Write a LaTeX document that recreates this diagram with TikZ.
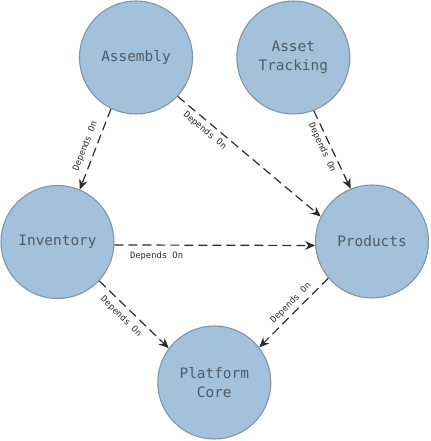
\documentclass[tikz,border=0pt]{standalone}
\usepackage{fontspec}
\setmonofont{DejaVu Sans Mono}
\usetikzlibrary{arrows.meta}
\definecolor{nodefill}{HTML}{A3C1DA}
\definecolor{nodedraw}{HTML}{7D94A7}
\definecolor{nodetext}{HTML}{4E5A65}
\definecolor{edgecol}{HTML}{2B2B2B}
\begin{document}
\begin{tikzpicture}[x=0.75pt,y=-0.75pt,
  module/.style={circle, fill=nodefill, draw=nodedraw, line width=0.8pt,
    minimum size=84.75pt, inner sep=0pt, align=center, text=nodetext,
    font=\fontsize{10.8}{14.25}\selectfont\ttfamily},
  dep/.style={draw=edgecol, line width=0.9pt, dash pattern=on 6.75pt off 3.75pt,
    -{Stealth[length=7.5pt,width=6.5pt]}},
  lbl/.style={font=\fontsize{6.6}{8}\selectfont\ttfamily, text=edgecol,
    sloped, inner sep=1pt}]
\useasboundingbox (0,0) rectangle (430,441);
\node[module] (asm)  at (136,57.5)   {Assembly};
\node[module] (ast)  at (293.3,57.5) {Asset\\Tracking};
\node[module] (inv)  at (57.5,242)   {Inventory};
\node[module] (prod) at (372,241.5)  {Products};
\node[module] (core) at (214.3,382.5) {Platform\\Core};

\draw[dep] (asm.-116) -- node[lbl, pos=0.51, above=3.2pt] {Depends On} (inv.67.5);
\draw[dep] (asm.-43) -- node[lbl, pos=0.23, below=2pt] {Depends On} (prod.154.6);
\draw[dep] (ast.-69) -- node[lbl, pos=0.43, below=1.6pt] {Depends On} (prod.112);
\draw[dep] (inv.-3.5) -- node[lbl, pos=0.21, below=3.75pt] {Depends On} (prod.-176);
\draw[dep] (inv.-43.6) -- node[lbl, pos=0.42, below=3.2pt] {Depends On} (core.143.5);
\draw[dep] (prod.-140) -- node[lbl, pos=0.45, above=2pt] {Depends On} (core.38.8);
\end{tikzpicture}
\end{document}
